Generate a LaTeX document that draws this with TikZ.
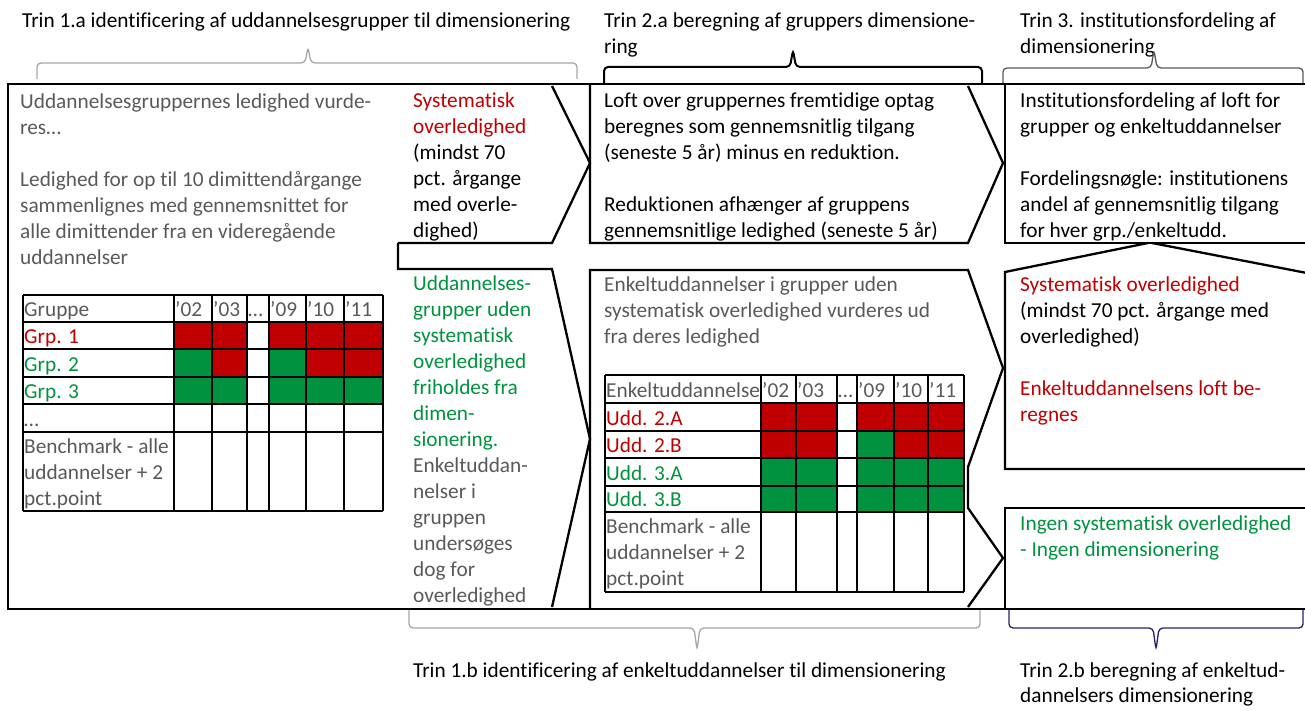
\documentclass[tikz,border=0pt]{standalone}
\usepackage{fontspec}
\setmainfont{Carlito}[Ligatures=NoCommon]

\definecolor{rd}{RGB}{192,0,0}
\definecolor{gn}{RGB}{0,146,63}
\definecolor{gy}{RGB}{89,89,89}
\definecolor{nv}{RGB}{35,35,110}
\newcommand\fsz{\fontsize{21.3}{26}\selectfont}

\tikzset{
  box/.style={line width=2.3pt},
  grid/.style={line width=2pt},
  txt/.style={anchor=north west, inner sep=0pt, align=left, font=\fsz},
  cell/.style={anchor=base west, inner sep=0pt, font=\fsz},
  brc/.style={line width=1.3pt, rounded corners=4pt},
}

\begin{document}
\begin{tikzpicture}[x=1pt,y=-1pt]
\useasboundingbox (0,0) rectangle (1305,711);

% overskrifter
\node[txt] (trin1a) at (22,9) {\strut Trin 1.a identificering af uddannelsesgrupper til dimensionering};
\node[txt] (trin2a) at (604,9) {\strut Trin 2.a beregning af gruppers dimensione-\\ring};
\node[txt] (trin3) at (1020,9) {\strut Trin 3. institutionsfordeling af\\dimensionering};
\node[txt] (trin1b) at (413,659) {\strut Trin 1.b identificering af enkeltuddannelser til dimensionering};
\node[txt] (trin2b) at (1020,659) {\strut Trin 2.b beregning af enkeltud-\\[-1pt]dannelsers dimensionering};

% klammer
\draw[brc, gray!70] (37,79) -- (37,63) -- (305,63) -- (308,47) -- (311,63) -- (577,63) -- (577,79);
\draw[brc, line width=2pt] (604,84) -- (604,67) -- (790,67) -- (793,50) -- (796,67) -- (982,67) -- (982,84);
\draw[brc, black!65] (1003,84) -- (1003,68) -- (1151,68) -- (1154,50) -- (1157,68) -- (1303,68) -- (1303,84);
\draw[brc, gray!70] (409,610) -- (409,628) -- (694,628) -- (697,650) -- (700,628) -- (980,628) -- (980,610);
\draw[brc, nv] (1009,610) -- (1009,628) -- (1153,628) -- (1156,650) -- (1159,628) -- (1303,628) -- (1303,610);

% rammer og pile
\draw[box] (8,84) rectangle (1312,609);
\draw[box] (398,243) -- (552,243) -- (590,163) -- (552,86);
\draw[box] (398,243) -- (398,269) -- (552,269) -- (590,439) -- (552,607);
\draw[box] (590,84) -- (590,243) -- (968,243) -- (1003,163) -- (968,86);
\draw[box] (590,609) -- (590,270) -- (968,270) -- (1003,368) -- (968,467) -- (968,508) -- (1003,558) -- (968,607);
\draw[box] (1005,84) -- (1005,243) -- (1312,243);
\draw[box] (1312,469) -- (1005,469) -- (1005,272) -- (1148,243);
\draw[box] (1152,243) -- (1312,274);
\draw[box] (1312,508) -- (1005,508) -- (1005,609);

% tekster
\node[txt, text=gy] (grpled) at (20,90) {\strut Uddannelsesgruppernes ledighed vurde-\\res…\\[26pt]Ledighed for op til 10 dimittendårgange\\sammenlignes med gennemsnittet for\\alle dimittender fra en videregående\\uddannelser};
\node[txt] (sysover) at (413,89) {\strut\textcolor{rd}{Systematisk}\\\textcolor{rd}{overledighed}\\(mindst 70\\pct. årgange\\med overle-\\dighed)};
\node[txt] (loft) at (604,89) {\strut Loft over gruppernes fremtidige optag\\beregnes som gennemsnitlig tilgang\\(seneste 5 år) minus en reduktion.\\[26pt]Reduktionen afhænger af gruppens\\gennemsnitlige ledighed (seneste 5 år)};
\node[txt] (instfd) at (1020,89) {\strut Institutionsfordeling af loft for\\grupper og enkeltuddannelser\\[26pt]Fordelingsnøgle: institutionens\\andel af gennemsnitlig tilgang\\for hver grp./enkeltudd.};
\node[txt, text=gn] (udenover) at (413,272) {\strut Uddannelses-\\grupper uden\\systematisk\\overledighed\\friholdes fra\\dimen-\\sionering.\\\textcolor{gy}{Enkeltuddan-}\\\textcolor{gy}{nelser i}\\\textcolor{gy}{gruppen}\\\textcolor{gy}{undersøges}\\\textcolor{gy}{dog for}\\\textcolor{gy}{overledighed}};
\node[txt, text=gy] (enkvurd) at (604,273) {\strut Enkeltuddannelser i grupper uden\\systematisk overledighed vurderes ud\\fra deres ledighed};
\node[txt] (enkloft) at (1020,273) {\strut\textcolor{rd}{Systematisk overledighed}\\(mindst 70 pct. årgange med\\overledighed)\\[26pt]\textcolor{rd}{Enkeltuddannelsens loft be-}\\\textcolor{rd}{regnes}};
\node[txt, text=gn] (ingen) at (1020,512) {\strut Ingen systematisk overledighed\\- Ingen dimensionering};

% tabel grupper
\fill[rd] (174,322) rectangle (247,349) (269,322) rectangle (383,349);
\fill[gn] (174,349) rectangle (212,377) (269,349) rectangle (306,377);
\fill[rd] (212,349) rectangle (247,377) (306,349) rectangle (383,377);
\fill[gn] (174,377) rectangle (247,404) (269,377) rectangle (383,404);
\foreach \x in {23,174,212,247,269,306,344,383} \draw[grid] (\x,295) -- (\x,511);
\foreach \y in {295,322,349,377,404,432,511} \draw[grid] (23,\y) -- (383,\y);
\foreach \x/\t [count=\i] in {174/’02,212/’03,247/…,269/’09,306/’10,344/’11}
  \node[cell, text=gy] (ga\i) at (\x+1,316) {\t};
\node[cell, text=gy] (gruppe) at (24,316) {Gruppe};
\node[cell, text=rd] (grp1) at (24,343) {Grp. 1};
\node[cell, text=gn] (grp2) at (24,371) {Grp. 2};
\node[cell, text=gn] (grp3) at (24,398) {Grp. 3};
\node[cell, text=gy] (gdots) at (24,426) {…};
\node[txt, text=gy] (gbench) at (24,435) {\strut Benchmark - alle\\uddannelser + 2\\pct.point};

% tabel enkeltuddannelser
\fill[rd] (761,403) rectangle (837,458) (857,403) rectangle (964,431) (894,431) rectangle (964,458);
\fill[gn] (857,431) rectangle (894,458) (761,458) rectangle (837,512) (857,458) rectangle (964,512);
\foreach \x in {605,761,796,837,857,894,928,964} \draw[grid] (\x,375) -- (\x,592);
\foreach \y in {375,403,431,458,486,512,592} \draw[grid] (605,\y) -- (964,\y);
\foreach \x/\t [count=\i] in {761/’02,796/’03,837/…,857/’09,894/’10,928/’11}
  \node[cell, text=gy] (ea\i) at (\x+1,397) {\t};
\node[cell, text=gy] (enkelt) at (606,397) {Enkeltuddannelse};
\node[cell, text=rd] (udd2a) at (606,425) {Udd. 2.A};
\node[cell, text=rd] (udd2b) at (606,452) {Udd. 2.B};
\node[cell, text=gn] (udd3a) at (606,480) {Udd. 3.A};
\node[cell, text=gn] (udd3b) at (606,506) {Udd. 3.B};
\node[txt, text=gy] (ebench) at (606,515) {\strut Benchmark - alle\\uddannelser + 2\\pct.point};

\end{tikzpicture}
\end{document}
